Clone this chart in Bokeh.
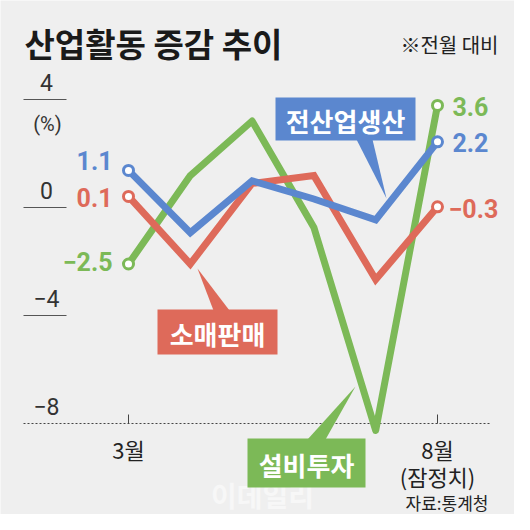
from bokeh.plotting import figure
from bokeh.models import Range1d
from bokeh.core.properties import value
from bokeh.embed import file_html
from bokeh.resources import INLINE

# ---------------- data ----------------
months = ["3월", "4월", "5월", "6월", "7월", "8월"]
production = [1.1, -1.3, 0.7, 0.0, -0.8, 2.2]      # 전산업생산
retail = [0.1, -2.5, 0.6, 0.9, -3.1, -0.3]          # 소매판매
investment = [-2.5, 0.9, 3.0, -1.1, -8.9, 3.6]      # 설비투자
series_names = ["전산업생산", "소매판매", "설비투자"]
y_ticks = [4, 0, -4, -8]
y_tick_labels = ["4", "0", "−4", "−8"]
x_tick_idx = [0, 5]
x_tick_labels = ["3월", "8월"]
end_labels = ["1.1", "0.1", "−2.5", "2.2", "−0.3", "3.6"]

BG = "#efefef"
BLUE = "#5b87cf"
RED = "#de6a5a"
GREEN = "#7cb957"
DARK = "#222222"
KR = value("Noto Sans CJK KR")
NUM = value("Roboto")

# mapping from reference pixel positions to data coords
X0, DX = 128.0, 61.8
Y0, DY = 198.5, 26.0


def X(sx):
    return (sx - X0) / DX


def Y(sy):
    return (Y0 - sy) / DY


W = H = 514
p = figure(width=W, height=H, output_backend="svg", toolbar_location=None,
           x_range=Range1d(X(0), X(W)), y_range=Range1d(Y(H), Y(0)),
           min_border=0, background_fill_color=BG, border_fill_color=BG,
           outline_line_color=None)
p.axis.visible = False
p.grid.visible = False

xs = list(range(len(months)))

# ---------- axis decoration ----------
for t, lab in zip(y_ticks, y_tick_labels):
    uy = 207 - 27.0 * t
    if t != -8:
        p.segment(x0=[X(23)], y0=[Y(uy)], x1=[X(66)], y1=[Y(uy)],
                  line_color="#555555", line_width=1)
    p.text(x=[X(46)], y=[Y(uy - 17)], text=[lab], text_font=NUM,
           text_font_size="23px", text_align="center", text_baseline="middle",
           text_color="#333333")
p.text(x=[X(47)], y=[Y(123)], text=["(%)"], text_font=NUM,
       text_font_size="20px", text_align="center", text_baseline="middle",
       text_color="#333333")

# dotted baseline at -8 level
base_y = 207 - 27.0 * (-8)
p.segment(x0=[X(23)], y0=[Y(base_y)], x1=[X(490)], y1=[Y(base_y)],
          line_color="#444444", line_width=1, line_dash="2 2")
for i, lab in zip(x_tick_idx, x_tick_labels):
    p.segment(x0=[i], y0=[Y(base_y)], x1=[i], y1=[Y(base_y - 9)],
              line_color="#444444", line_width=1)
    p.text(x=[i], y=[Y(448)], text=[lab], text_font=KR, text_font_size="22px",
           text_align="center", text_baseline="middle", text_color=DARK)
p.text(x=[x_tick_idx[1]], y=[Y(475)], text=["(잠정치)"], text_font=KR,
       text_font_size="22px", text_align="center", text_baseline="middle",
       text_color=DARK)

# watermark
p.text(x=[X(262)], y=[Y(494)], text=["이데일리"], text_font=KR,
       text_font_size="28px", text_font_style="bold", text_align="center",
       text_baseline="middle", text_color="#f7f7f7")

# ---------- lines ----------
p.line(xs, investment, line_color=GREEN, line_width=7, line_join="round")
p.line(xs, retail, line_color=RED, line_width=7, line_join="miter")
p.line(xs, production, line_color=BLUE, line_width=7, line_join="miter")

for ser, col in ((investment, GREEN), (retail, RED), (production, BLUE)):
    p.scatter([xs[0], xs[-1]], [ser[0], ser[-1]], size=10, fill_color="white",
              line_color=col, line_width=3)

# ---------- end value labels ----------
p.text(x=[X(112)] * 3, y=[Y(160), Y(197), Y(261)], text=end_labels[:3],
       text_font=NUM, text_font_size="25px", text_font_style="bold",
       text_align="right", text_baseline="middle",
       text_color=[BLUE, RED, GREEN])
p.text(x=[X(452), X(448), X(452)], y=[Y(142), Y(208), Y(106)], text=end_labels[3:],
       text_font=NUM, text_font_size="25px", text_font_style="bold",
       text_align="left", text_baseline="middle",
       text_color=[BLUE, RED, GREEN])

# ---------- callouts ----------
callouts = [
    (series_names[0], BLUE, (275, 415, 97, 140), [(356, 139), (372, 139), (386, 198)]),
    (series_names[1], RED, (157, 277, 309, 354), [(213, 310), (229, 310), (197, 268)]),
    (series_names[2], GREEN, (247, 365, 438, 487), [(307, 439), (325, 439), (355, 386)]),
]
for name, col, (l, r, t, b), tri in callouts:
    p.patch([X(a) for a, _ in tri], [Y(c) for _, c in tri], fill_color=col,
            line_color=None)
    p.quad(left=[X(l)], right=[X(r)], top=[Y(t)], bottom=[Y(b)],
           fill_color=col, line_color=None)
    p.text(x=[X((l + r) / 2)], y=[Y((t + b) / 2 + 1)], text=[name], text_font=KR,
           text_font_size="26px", text_font_style="bold", text_align="center",
           text_baseline="middle", text_color="white")

# ---------- title & notes ----------
p.text(x=[X(24)], y=[Y(42)], text=["산업활동 증감 추이"], text_font=KR,
       text_font_size="33px", text_font_style="bold", text_align="left",
       text_baseline="middle", text_color="#1a1a1a")
p.text(x=[X(498)], y=[Y(44)], text=["※전월 대비"], text_font=KR,
       text_font_size="20px", text_align="right", text_baseline="middle",
       text_color=DARK)
p.text(x=[X(488)], y=[Y(502)], text=["자료:통계청"], text_font=KR,
       text_font_size="17px", text_align="right", text_baseline="middle",
       text_color=DARK)

open("out.html", "w").write(file_html(p, INLINE))
